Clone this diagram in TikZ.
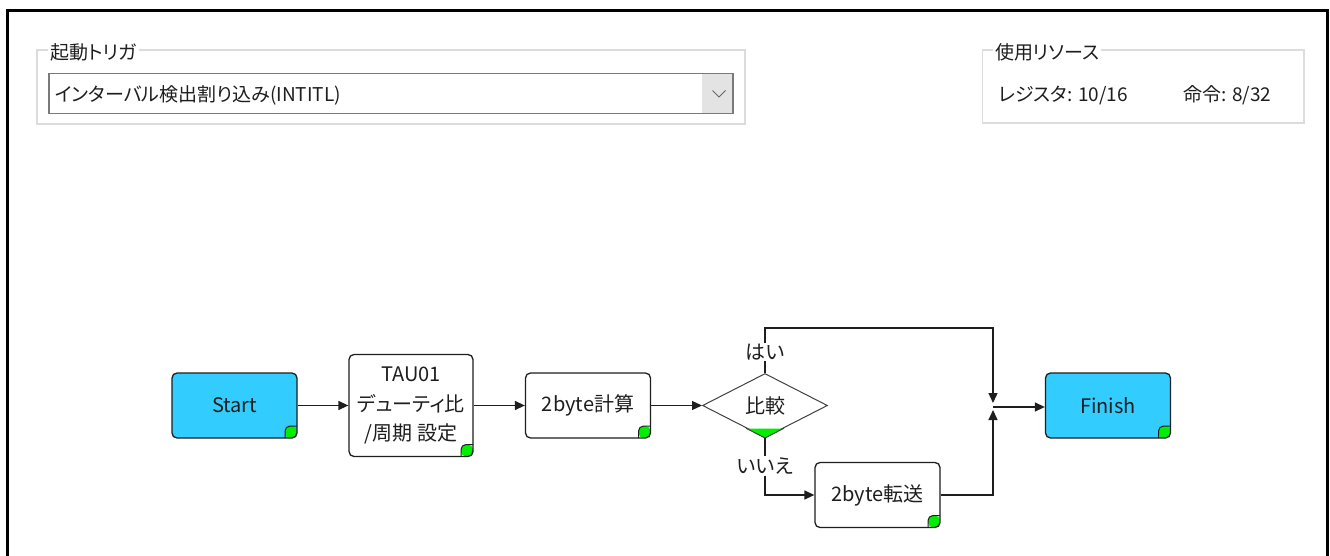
\documentclass[tikz,border=0pt]{standalone}
\usepackage{fontspec}
\setmainfont{Noto Sans CJK JP}[RawFeature={+palt}]
\usetikzlibrary{shapes.geometric,arrows.meta,calc}
\definecolor{boxcyan}{HTML}{33CCFF}
\definecolor{cornergreen}{HTML}{00EE00}
\definecolor{grpline}{HTML}{DCDCDC}
\definecolor{cmbline}{HTML}{7A7A7A}
\definecolor{btnfill}{HTML}{E3E3E3}
\definecolor{ink}{HTML}{1E1E1E}
\tikzset{
  uitext/.style={font=\fontsize{19}{22}\selectfont, text=ink, inner sep=2pt},
  dtext/.style={font=\fontsize{20}{30}\selectfont, text=ink},
  block/.style={dtext, draw=ink, line width=1.3pt, rounded corners=5pt,
    minimum width=125pt, minimum height=65pt, inner sep=2pt, align=center, fill=white,
    path picture={
      \fill[cornergreen] ([shift={(-12,-12)}]path picture bounding box.south east)
        rectangle (path picture bounding box.south east);
      \draw[ink, line width=1pt] ([shift={(-12,0)}]path picture bounding box.south east)
        -- ++(0,-12) -- ++(12,0);
    }},
  termbox/.style={block, fill=boxcyan},
  decision/.style={dtext, diamond, draw=ink!85, line width=1pt, aspect=2,
    minimum width=125pt, minimum height=64pt, inner sep=0pt},
  lbl/.style={dtext, inner sep=1pt},
  conn/.style={draw=ink, line width=1.3pt},
  arr/.style={conn, -{Triangle[length=10pt,width=9pt]}},
  grp/.style={draw=grpline, line width=1.2pt},
}
\begin{document}
\begin{tikzpicture}[x=1pt,y=-1pt]
\useasboundingbox (0,0) rectangle (1330,556);
% outer frame
\draw[line width=3pt, black] (7.5,560) -- (7.5,10.5) -- (1327,10.5) -- (1327,560);
% group box 1
\draw[grp] (37,50) rectangle (745,124);
\node[uitext, anchor=west, fill=white] (trigLabel) at (48,52) {起動トリガ};
\draw[draw=cmbline, fill=white, line width=1.2pt] (49,73.5) rectangle (733,113.5);
\fill[btnfill] (702,74.2) rectangle (732.4,112.8);
\draw[draw=black!60, line width=1pt] (712.5,90.5) -- (719,97) -- (725.5,90.5);
\node[uitext, anchor=west] (trigValue) at (53,95) {インターバル検出割り込み(INTITL)};
% group box 2
\draw[grp] (982.5,50) rectangle (1304,123);
\node[uitext, anchor=west, fill=white] (resLabel) at (993,52) {使用リソース};
\node[uitext, anchor=west] (regs) at (996,95) {レジスタ: 10/16};
\node[uitext, anchor=west] (insts) at (1181,95) {命令: 8/32};
% flow nodes
\node[termbox] (start) at (234.5,405.5) {Start};
\node[block, minimum width=124pt, minimum height=102pt, font=\fontsize{20}{29.5}\selectfont] (tau) at (411,405.5) {TAU01\\デューティ比\\/周期 設定};
\node[block] (calc2) at (588,405.5) {2byte計算};
\node[decision] (cmp) at (765,405.5) {比較};
\fill[cornergreen] ($(cmp.south)!0.285!(cmp.west)$) -- (cmp.south) -- ($(cmp.south)!0.285!(cmp.east)$) -- cycle;
\draw[ink!85, line width=1pt] ($(cmp.south)!0.3!(cmp.west)$) -- (cmp.south) -- ($(cmp.south)!0.3!(cmp.east)$);
\node[block] (xfer) at (877.5,495) {2byte転送};
\node[termbox] (finish) at (1108,405.5) {Finish};
\node[lbl] (yes) at (765,352) {はい};
\node[lbl] (no) at (765,466) {いいえ};
\coordinate (ytop) at (765,328);
\coordinate (ycorner) at (993,328);
\coordinate (yend) at (993,403);
\coordinate (join) at (993,407);
\coordinate (nend) at (993,410);
% connectors
\draw[arr] (start) -- (tau);
\draw[arr] (tau) -- (calc2);
\draw[arr] (calc2) -- (cmp);
\draw[conn] (cmp.north) -- (yes.south);
\draw[arr] (yes.north) -- (ytop) -- (ycorner) -- (yend);
\draw[conn] (cmp.south) -- (no.north);
\draw[arr] (no.south) |- (xfer.west);
\draw[arr] (xfer.east) -| (nend);
\draw[arr] (join) -- (finish.west |- join);
\end{tikzpicture}
\end{document}
